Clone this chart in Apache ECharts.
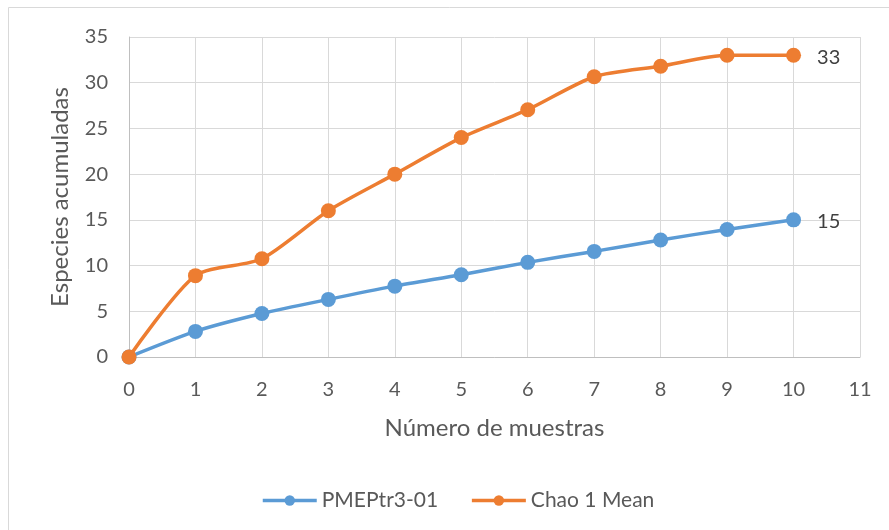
<!DOCTYPE html>
<html>
<head>
<meta charset="utf-8">
<script src="https://cdn.jsdelivr.net/npm/echarts@6/dist/echarts.min.js"></script>
<style>
html,body{margin:0;padding:0;background:#fff;}
#chart{width:889px;height:530px;}
</style>
</head>
<body>
<div id="chart"></div>
<script>
const xValues = [0, 1, 2, 3, 4, 5, 6, 7, 8, 9, 10];
const pmepValues = [0, 2.8, 4.75, 6.3, 7.75, 9.0, 10.35, 11.55, 12.8, 13.95, 15.0];
const chaoValues = [0, 8.9, 10.75, 16.0, 20.0, 24.0, 27.05, 30.65, 31.8, 33.0, 33.0];
const seriesNames = ['PMEPtr3-01', 'Chao 1 Mean'];
const xAxisTitle = 'Número de muestras';
const yAxisTitle = 'Especies acumuladas';

const FONT = 'Lato';
const TXT = '#595959';

function pairs(vals) { return xValues.map((x, i) => [x, vals[i]]); }

const chart = echarts.init(document.getElementById('chart'));
function lastLabel(vals) {
  return {
    show: true, position: 'right', distance: 16, offset: [0, 2],
    formatter: p => (p.dataIndex === vals.length - 1 ? String(vals[p.dataIndex]) : ''),
    color: '#404040', fontFamily: FONT, fontSize: 20
  };
}
chart.setOption({
  animation: false,
  textStyle: { fontFamily: FONT },
  graphic: [{
    type: 'rect', shape: { x: 8.5, y: 7.5, width: 900, height: 600 },
    style: { fill: 'none', stroke: '#d9d9d9', lineWidth: 1 }, silent: true, z: -1
  }],
  grid: { left: 129, right: 29, top: 37, bottom: 173 },
  legend: {
    top: 485, left: 256, itemGap: 32, itemWidth: 54, itemHeight: 13,
    textStyle: { color: TXT, fontSize: 21, fontFamily: FONT },
    lineStyle: { width: 3.5 },
    data: seriesNames
  },
  xAxis: {
    type: 'value', min: 0, max: 11, interval: 1,
    name: xAxisTitle, nameLocation: 'middle', nameGap: 59,
    nameTextStyle: { color: TXT, fontSize: 24, fontFamily: FONT },
    axisLine: { show: true, lineStyle: { color: '#bfbfbf', width: 1 } },
    axisTick: { show: false },
    axisLabel: { color: TXT, fontSize: 20, margin: 23, fontFamily: FONT },
    splitLine: { show: true, lineStyle: { color: '#d9d9d9', width: 1 } }
  },
  yAxis: {
    type: 'value', min: 0, max: 35, interval: 5,
    name: yAxisTitle, nameLocation: 'middle', nameGap: 57, nameRotate: 90,
    nameTextStyle: { color: TXT, fontSize: 24, fontFamily: FONT },
    axisLine: { show: true, lineStyle: { color: '#bfbfbf', width: 1 } },
    axisTick: { show: false },
    axisLabel: { color: TXT, fontSize: 20, margin: 21, fontFamily: FONT },
    splitLine: { show: true, lineStyle: { color: '#d9d9d9', width: 1 } }
  },
  series: [
    {
      name: seriesNames[0], type: 'line', data: pairs(pmepValues), smooth: 0.25,
      symbol: 'circle', symbolSize: 15,
      itemStyle: { color: '#5b9bd5' },
      lineStyle: { color: '#5b9bd5', width: 3.5 },
      label: lastLabel(pmepValues), z: 2
    },
    {
      name: seriesNames[1], type: 'line', data: pairs(chaoValues), smooth: 0.25,
      symbol: 'circle', symbolSize: 15,
      itemStyle: { color: '#ed7d31' },
      lineStyle: { color: '#ed7d31', width: 3.5 },
      label: lastLabel(chaoValues), z: 3
    }
  ]
});
</script>
</body>
</html>
